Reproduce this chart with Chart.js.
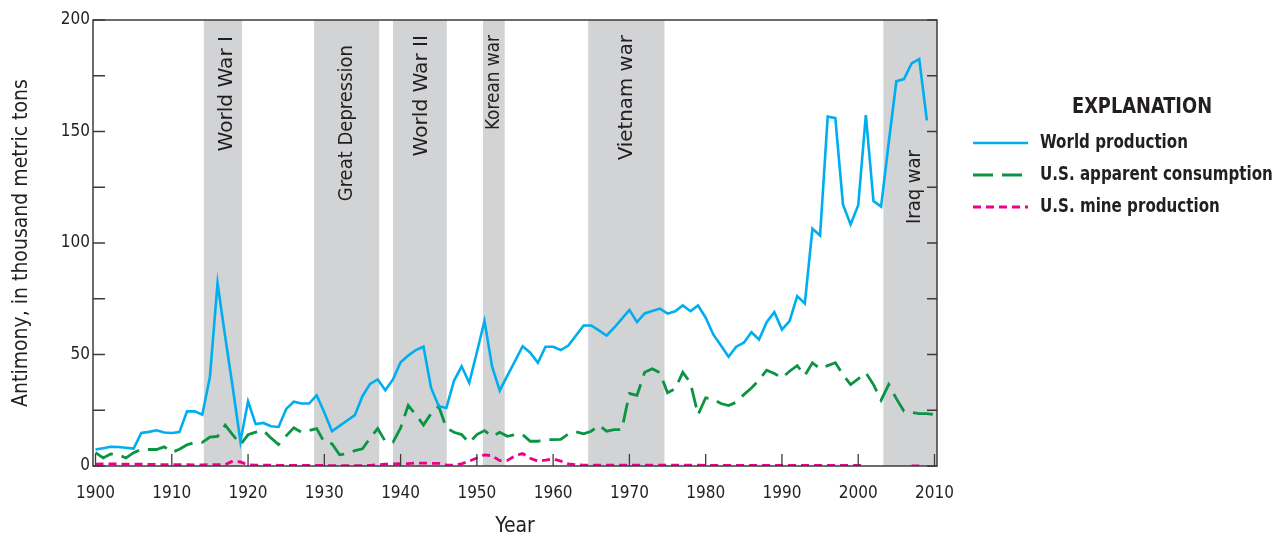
<!DOCTYPE html>
<html><head><meta charset="utf-8">
<script src="https://cdn.jsdelivr.net/npm/chart.js@4.4.1/dist/chart.umd.min.js"></script>
<style>html,body{margin:0;padding:0;background:#fff;}#wrap{width:1275px;height:536px;position:relative;}</style>
</head><body><div id="wrap"><canvas id="c" width="1275" height="536"></canvas></div>
<script>
const years = [1900,1901,1902,1903,1904,1905,1906,1907,1908,1909,
1910,1911,1912,1913,1914,1915,1916,1917,1918,1919,
1920,1921,1922,1923,1924,1925,1926,1927,1928,1929,
1930,1931,1932,1933,1934,1935,1936,1937,1938,1939,
1940,1941,1942,1943,1944,1945,1946,1947,1948,1949,
1950,1951,1952,1953,1954,1955,1956,1957,1958,1959,
1960,1961,1962,1963,1964,1965,1966,1967,1968,1969,
1970,1971,1972,1973,1974,1975,1976,1977,1978,1979,
1980,1981,1982,1983,1984,1985,1986,1987,1988,1989,
1990,1991,1992,1993,1994,1995,1996,1997,1998,1999,
2000,2001,2002,2003,2004,2005,2006,2007,2008,2009,2010];

const worldProduction = [7.4,8,8.6,8.5,8.2,7.8,14.8,15.3,16,15,
14.8,15.2,24.5,24.5,23,40,82,58,35,11,
29,18.8,19.3,17.8,17.5,25.6,28.8,28,28,31.7,
24,15.6,18,20.4,22.8,31.3,36.8,38.8,34,38.8,
46.5,49.5,52,53.5,35,26.8,26,38.2,44.7,37.3,
51,65,44.5,33.8,40.5,47,53.7,50.8,46.3,53.5,
53.5,52,54,58.5,63,63,60.8,58.5,62,66,
70,64.5,68.4,69.5,70.6,68.3,69.4,72,69.4,72,
66.5,59,54,49,53.5,55.3,60,56.7,64.5,69,
61.2,65,76.2,72.9,106.4,103.4,156.7,156,117.3,108.3,
116.9,157.3,118.8,116.3,145,172.5,173.5,180.5,182.5,155,null];

const usConsumption = [6,3.6,5.4,5,3.6,6,7.4,7.4,7.4,8.6,
6.1,7.5,9.5,10.6,10.6,13,13.3,18.3,14,9.6,
14,15.2,15.9,12.6,9.6,13.5,17.1,15.1,15.9,16.8,
10.6,10,5,5.5,6.9,7.7,12.5,16.8,11,10.6,
17.1,27.2,23,18.4,23.5,26.8,17.1,15.1,14.1,10.4,
14.1,15.9,13.3,15.1,13.3,14,14.1,11.1,11.1,11.8,
11.8,11.9,14.4,15.3,14.4,15.6,18.3,15.6,16.3,16.3,
32.5,31.7,42,43.6,41.8,32.8,34.6,42,37.3,23,
30.6,30,28,27.1,28.6,32,35,38.5,43,41.5,
39.5,42.5,45,40.6,46.3,43.6,45,46.3,41,36.5,
39.1,41.8,36.5,29.5,36.5,30.2,24.6,24,23.5,23.5,23];

const usMineProduction = [0.8,0.9,0.9,0.9,0.8,0.8,0.8,0.7,0.7,0.6,
0.6,0.6,0.6,0.5,0.5,0.6,0.6,0.6,2.2,1.8,
0.5,0.4,0.4,0.4,0.3,0.3,0.3,0.3,0.3,0.3,
0.2,0.2,0.2,0.2,0.2,0.2,0.3,0.6,0.8,0.9,
1.0,1.1,1.3,1.3,1.2,1.2,0.5,0.4,1.0,2.2,
3.6,5.0,4.6,2.4,2.5,4.5,5.6,3.5,2.2,2.6,
3.2,2.2,1.0,0.5,0.4,0.4,0.4,0.4,0.4,0.4,
0.4,0.4,0.4,0.4,0.4,0.4,0.4,0.4,0.4,0.4,
0.3,0.3,0.3,0.3,0.3,0.3,0.3,0.3,0.3,0.3,
0.3,0.3,0.3,0.3,0.3,0.3,0.3,0.3,0.3,0.3,
0.3,0.2,null,null,null,null,null,0.1,0.1,null,null];

const seriesNames = ['World production','U.S. apparent consumption','U.S. mine production'];
const xTickValues = [1900,1910,1920,1930,1940,1950,1960,1970,1980,1990,2000,2010];
const yTickValues = [0,25,50,75,100,125,150,175,200];
const yLabelValues = [0,50,100,150,200];
const periodNames = ['World War I','Great Depression','World War II','Korean war','Vietnam war','Iraq war'];
const periodStart = [1914.2,1928.65,1939.0,1950.8,1964.6,2003.3];
const periodEnd = [1919.2,1937.2,1946.05,1953.65,1974.6,2010.4];

const FONT = "'DejaVu Sans Condensed','DejaVu Sans',sans-serif";
const INK = '#231F20';
const COLORS = ['#00AEEF','#0A9444','#EC008C'];
const DASHES = [[],[20,9],[8,5]];
const WIDTHS = [2.6,2.8,2.8];

// label layout: [top pixel of text end, x offset from shade centre, horizontal scale]
const labelLayout = [[36,4,1.12],[45,0,1.0],[35,2,1.12],[35,0,0.94],[35,0,1.1],[150,5,1.0]];

const pts = arr => years.map((yr,i)=>({x:yr,y:arr[i]}));

function drawScaledText(ctx, text, x, y, sx){
  ctx.save(); ctx.translate(x, y); ctx.scale(sx, 1); ctx.fillText(text, 0, 0); ctx.restore();
}

const periodPlugin = {
  id:'periods',
  beforeDatasetsDraw(chart){
    const {ctx, chartArea:a, scales:{x}} = chart;
    ctx.save();
    ctx.fillStyle = '#D1D3D4';
    periodStart.forEach((s,i)=>{
      const x0 = Math.max(a.left, x.getPixelForValue(s));
      const x1 = Math.min(a.right, x.getPixelForValue(periodEnd[i]));
      ctx.fillRect(x0, a.top, x1-x0, a.bottom-a.top);
    });
    ctx.fillStyle = INK;
    ctx.font = "20px " + FONT;
    ctx.textAlign = 'right';
    ctx.textBaseline = 'middle';
    periodStart.forEach((s,i)=>{
      const x0 = Math.max(a.left, x.getPixelForValue(s));
      const x1 = Math.min(a.right, x.getPixelForValue(periodEnd[i]));
      ctx.save();
      ctx.translate((x0+x1)/2 + labelLayout[i][1], labelLayout[i][0]);
      ctx.rotate(-Math.PI/2);
      ctx.scale(labelLayout[i][2], 1);
      ctx.fillText(periodNames[i], 0, 0);
      ctx.restore();
    });
    ctx.restore();
  },
  afterDraw(chart){
    const {ctx, chartArea:a, scales:{x,y}} = chart;
    ctx.save();
    ctx.strokeStyle = '#3C3C3C';
    ctx.lineWidth = 1.5;
    ctx.strokeRect(a.left, a.top, a.right-a.left, a.bottom-a.top);
    ctx.lineWidth = 1.3;
    ctx.beginPath();
    yTickValues.forEach(v=>{
      const py = y.getPixelForValue(v);
      ctx.moveTo(a.left, py); ctx.lineTo(a.left+12, py);
      ctx.moveTo(a.right, py); ctx.lineTo(a.right-10, py);
    });
    xTickValues.forEach(v=>{
      const px = x.getPixelForValue(v);
      ctx.moveTo(px, a.bottom); ctx.lineTo(px, a.bottom-12);
    });
    ctx.stroke();
    // legend
    ctx.fillStyle = INK;
    ctx.textBaseline = 'middle';
    ctx.textAlign = 'center';
    ctx.font = "bold 22px " + FONT;
    drawScaledText(ctx, 'EXPLANATION', 1142, 107, 0.9);
    ctx.textAlign = 'left';
    ctx.font = "bold 20px " + FONT;
    const ly = [143,175,207];
    seriesNames.forEach((n,i)=>{
      ctx.save();
      ctx.strokeStyle = COLORS[i];
      ctx.lineWidth = WIDTHS[i];
      ctx.setLineDash(DASHES[i]);
      ctx.beginPath(); ctx.moveTo(973, ly[i]); ctx.lineTo(1028, ly[i]); ctx.stroke();
      ctx.restore();
      drawScaledText(ctx, n, 1040, ly[i], 0.84);
    });
    ctx.restore();
  }
};

new Chart(document.getElementById('c'), {
  type:'line',
  data:{ datasets:[
    {label:seriesNames[0], data:pts(worldProduction), borderColor:COLORS[0], borderWidth:WIDTHS[0], borderDash:DASHES[0], pointRadius:0, tension:0, fill:false, spanGaps:false},
    {label:seriesNames[1], data:pts(usConsumption), borderColor:COLORS[1], borderWidth:WIDTHS[1], borderDash:DASHES[1], pointRadius:0, tension:0, fill:false},
    {label:seriesNames[2], data:pts(usMineProduction), borderColor:COLORS[2], borderWidth:WIDTHS[2], borderDash:DASHES[2], pointRadius:0, tension:0, fill:false, spanGaps:false}
  ]},
  options:{
    responsive:false, animation:false, devicePixelRatio:1,
    layout:{padding:{top:20,right:338,left:0,bottom:0}},
    plugins:{legend:{display:false}, tooltip:{enabled:false}},
    scales:{
      x:{type:'linear', min:1899.67, max:2010.33,
        afterBuildTicks(s){ s.ticks = xTickValues.map(v=>({value:v})); },
        afterFit(s){ s.height = 70; },
        grid:{display:false, drawTicks:false}, border:{display:false},
        ticks:{color:INK, font:{family:FONT, size:17}, padding:17, maxRotation:0, autoSkip:false, callback:v=>String(v)},
        title:{display:true, text:'Year', color:INK, font:{family:FONT, size:21, lineHeight:0.86}, padding:{top:0,bottom:0}}
      },
      y:{type:'linear', min:0, max:200,
        afterBuildTicks(s){ s.ticks = yTickValues.map(v=>({value:v})); },
        afterFit(s){ s.width = 93; },
        grid:{display:false, drawTicks:false}, border:{display:false},
        ticks:{color:INK, font:{family:FONT, size:17}, padding:3, autoSkip:false, callback:v=> yLabelValues.includes(v) ? String(v) : ''},
        title:{display:true, text:'Antimony, in thousand metric tons', color:INK, font:{family:FONT, size:21, lineHeight:1.2}, padding:{top:9,bottom:0}}
      }
    }
  },
  plugins:[periodPlugin]
});
</script></body></html>
